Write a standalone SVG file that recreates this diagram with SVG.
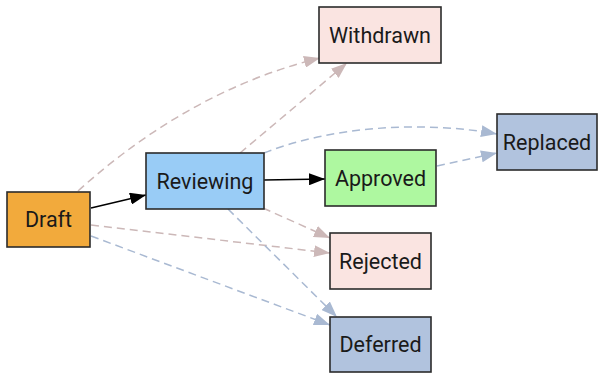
<svg xmlns="http://www.w3.org/2000/svg" width="598" height="373" viewBox="0 0 598 373">
<style>
.node rect{stroke:#2b2b2b;stroke-width:1.6}
.node text{font-family:Roboto,"Liberation Sans",sans-serif;font-size:21.5px;fill:#1a1a1a;text-anchor:middle;dominant-baseline:central}
.e{fill:none;stroke-width:1.5}
.solid{stroke:#000}
.rose{stroke:#ccb8b8;stroke-dasharray:8 5}
.blue{stroke:#a9b9d2;stroke-dasharray:8 5}
</style>
<defs>
<marker id="ab" markerUnits="userSpaceOnUse" markerWidth="16" markerHeight="12" refX="16" refY="6" orient="auto"><path d="M0,0 L16,6 L0,12 z" fill="#000"/></marker>
<marker id="ar" markerUnits="userSpaceOnUse" markerWidth="16" markerHeight="12" refX="16" refY="6" orient="auto"><path d="M0,0 L16,6 L0,12 z" fill="#ccb8b8"/></marker>
<marker id="ag" markerUnits="userSpaceOnUse" markerWidth="16" markerHeight="12" refX="16" refY="6" orient="auto"><path d="M0,0 L16,6 L0,12 z" fill="#a9b9d2"/></marker>
</defs>
<g id="connectors">
<path class="e solid" d="M91,208 L146,195" marker-end="url(#ab)"/>
<path class="e solid" d="M264,180 L325,179" marker-end="url(#ab)"/>
<path class="e rose" d="M78,191 Q190,90 320,58" marker-end="url(#ar)"/>
<path class="e rose" d="M240,153 L347,63" marker-end="url(#ar)"/>
<path class="e blue" d="M264,153 C330,127 420,120 497,134" marker-end="url(#ag)"/>
<path class="e blue" d="M437,166 L497,153" marker-end="url(#ag)"/>
<path class="e rose" d="M263,208 L330,238" marker-end="url(#ar)"/>
<path class="e rose" d="M91,225 L330,253" marker-end="url(#ar)"/>
<path class="e blue" d="M228,209 L337,317" marker-end="url(#ag)"/>
<path class="e blue" d="M91,236 L330,325" marker-end="url(#ag)"/>
</g>
<g id="draft" class="node"><rect x="7" y="192" width="83" height="55" fill="#f2aa3c"/><text x="48.5" y="219.5">Draft</text></g>
<g id="reviewing" class="node"><rect x="146" y="153" width="118" height="56" fill="#99ccf6"/><text x="205" y="181">Reviewing</text></g>
<g id="withdrawn" class="node"><rect x="319" y="7" width="122" height="56" fill="#fae4e1"/><text x="380" y="35">Withdrawn</text></g>
<g id="approved" class="node"><rect x="325" y="150" width="111" height="56" fill="#aef8a0"/><text x="380.5" y="178">Approved</text></g>
<g id="replaced" class="node"><rect x="497" y="114" width="100" height="56" fill="#b1c3de"/><text x="547" y="142">Replaced</text></g>
<g id="rejected" class="node"><rect x="330" y="233" width="101" height="56" fill="#fae4e1"/><text x="380.5" y="261">Rejected</text></g>
<g id="deferred" class="node"><rect x="330" y="317" width="101" height="55" fill="#b1c3de"/><text x="380.5" y="344.5">Deferred</text></g>
</svg>
